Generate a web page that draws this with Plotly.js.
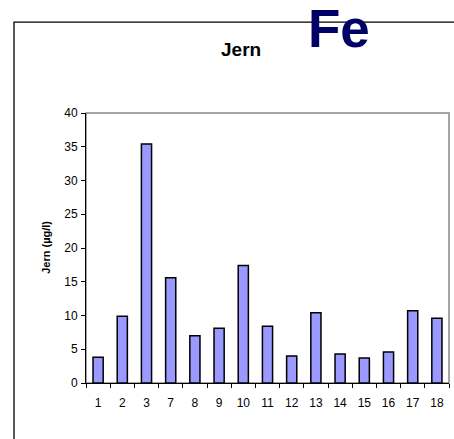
<!DOCTYPE html>
<html>
<head>
<meta charset="utf-8">
<script src="https://cdn.plot.ly/plotly-3.0.1.min.js"></script>
<style>
  html, body { margin: 0; padding: 0; background: #ffffff; }
  #chart { width: 454px; height: 439px; }
</style>
</head>
<body>
<div id="chart"></div>
<script>
// Sample points (station numbers) and measured iron concentration
const stations = ["1", "2", "3", "7", "8", "9", "10", "11", "12", "13", "14", "15", "16", "17", "18"];
const ironValues = [3.8, 9.9, 35.4, 15.6, 7.0, 8.1, 17.4, 8.4, 4.0, 10.4, 4.3, 3.7, 4.6, 10.7, 9.6];
const yTicks = [0, 5, 10, 15, 20, 25, 30, 35, 40];

// Plot area geometry in pixels, used to place the outer frame and texts
const W = 454, H = 439;
const M = { l: 86, r: 5, t: 113, b: 55.5 };
const pw = W - M.l - M.r, ph = H - M.t - M.b;
const px = x => (x - M.l) / pw;
const py = y => (H - M.b - y) / ph;

const trace = {
  type: "bar",
  x: stations,
  y: ironValues,
  marker: { color: "#9999ff", line: { color: "#000000", width: 1.5 } },
  hoverinfo: "x+y"
};

const layout = {
  width: W,
  height: H,
  margin: M,
  paper_bgcolor: "#ffffff",
  plot_bgcolor: "#ffffff",
  showlegend: false,
  bargap: 0.58,
  font: { family: "Arial, 'Liberation Sans', sans-serif", color: "#000000", size: 12 },
  xaxis: {
    type: "category",
    tickson: "boundaries",
    ticks: "outside",
    ticklen: 4,
    tickcolor: "#000000",
    ticklabelstandoff: 9,
    showline: true,
    linecolor: "#000000",
    linewidth: 1,
    showgrid: false,
    zeroline: false,
    tickfont: { size: 12 },
    fixedrange: true
  },
  yaxis: {
    range: [0, 40],
    tickvals: yTicks,
    ticktext: yTicks.map(String),
    ticks: "outside",
    ticklen: 4,
    tickcolor: "#000000",
    ticklabelstandoff: 1,
    showline: true,
    linecolor: "#000000",
    linewidth: 1,
    showgrid: false,
    zeroline: false,
    tickfont: { size: 12 },
    fixedrange: true
  },
  shapes: [
    // plot area border (grey)
    { type: "rect", xref: "paper", yref: "paper", x0: 0, x1: 1, y0: 0, y1: 1,
      line: { color: "#888888", width: 1.5 }, layer: "below" },
    // outer chart frame
    { type: "rect", xref: "paper", yref: "paper",
      x0: px(14), x1: px(470), y0: py(460), y1: py(22),
      line: { color: "#000000", width: 1.3 }, layer: "below" }
  ],
  annotations: [
    { text: "<b>Jern</b>", xref: "paper", yref: "paper", x: px(241), y: py(49),
      xanchor: "center", yanchor: "middle", showarrow: false,
      font: { size: 19, color: "#000000" } },
    { text: "<b>Fe</b>", xref: "paper", yref: "paper", x: px(339), y: py(28),
      xanchor: "center", yanchor: "middle", showarrow: false,
      font: { size: 53, color: "#000066" } },
    { text: "<b>Jern (µg/l)</b>", xref: "paper", yref: "paper", x: px(46), y: py(248),
      xanchor: "center", yanchor: "middle", showarrow: false, textangle: -90,
      font: { size: 11, color: "#000000" } }
  ]
};

Plotly.newPlot("chart", [trace], layout, { displayModeBar: false, staticPlot: true });
</script>
</body>
</html>
